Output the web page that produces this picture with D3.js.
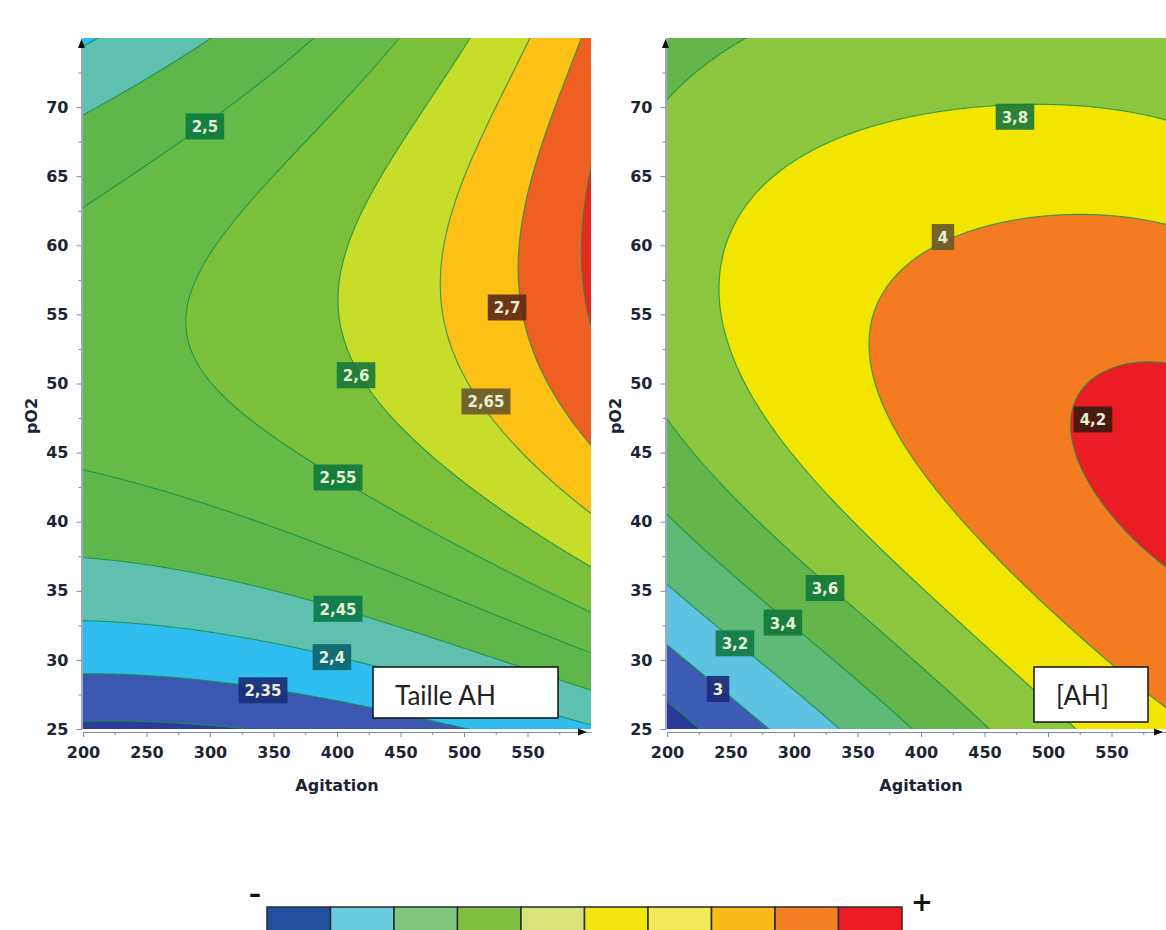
<!DOCTYPE html>
<html><head><meta charset="utf-8">
<script src="https://cdn.jsdelivr.net/npm/d3@7"></script>
<style>
body{margin:0;background:#fff;}
svg{display:block;}
</style></head><body>
<svg id="chart" width="1166" height="930"></svg>
<script>
// ---------------- DATA ----------------
const agitationGrid = [200,250,300,350,400,450,500,550,600];
const pO2Grid = [25,30,35,40,45,50,55,60,65,70,75];
// Taille AH : rows = pO2 (25 -> 75), columns = Agitation (200 -> 600)
const tailleAH = [
  [2.290,2.291,2.294,2.302,2.310,2.327,2.349,2.372,2.393],
  [2.365,2.370,2.377,2.388,2.398,2.416,2.438,2.460,2.497],
  [2.424,2.433,2.441,2.451,2.465,2.485,2.512,2.546,2.573],
  [2.469,2.479,2.490,2.503,2.524,2.546,2.571,2.604,2.633],
  [2.503,2.512,2.524,2.538,2.565,2.589,2.619,2.645,2.690],
  [2.528,2.535,2.542,2.562,2.590,2.614,2.646,2.682,2.740],
  [2.534,2.542,2.553,2.575,2.604,2.626,2.668,2.715,2.756],
  [2.516,2.532,2.551,2.574,2.602,2.624,2.664,2.714,2.758],
  [2.483,2.502,2.527,2.552,2.578,2.604,2.642,2.702,2.747],
  [2.446,2.466,2.490,2.525,2.550,2.578,2.612,2.672,2.732],
  [2.393,2.420,2.447,2.482,2.515,2.556,2.597,2.652,2.712]
];
// [AH]
const concAH = [
  [2.690,2.900,3.070,3.245,3.410,3.572,3.740,3.900,3.980],
  [2.945,3.128,3.305,3.478,3.600,3.775,3.892,4.006,4.067],
  [3.173,3.353,3.518,3.667,3.781,3.933,4.035,4.117,4.175],
  [3.402,3.543,3.675,3.813,3.916,4.045,4.125,4.186,4.238],
  [3.536,3.680,3.800,3.914,4.004,4.112,4.168,4.210,4.257],
  [3.646,3.757,3.873,3.971,4.046,4.135,4.172,4.200,4.231],
  [3.704,3.790,3.900,3.985,4.042,4.112,4.145,4.150,4.161],
  [3.720,3.790,3.885,3.953,3.990,4.045,4.058,4.055,4.046],
  [3.692,3.757,3.830,3.878,3.893,3.933,3.924,3.920,3.887],
  [3.619,3.680,3.740,3.770,3.770,3.790,3.780,3.780,3.740],
  [3.510,3.585,3.640,3.640,3.680,3.690,3.690,3.700,3.680]
];
const tailleLevels = [2.3,2.35,2.4,2.45,2.5,2.55,2.6,2.65,2.7,2.75];
const concLevels = [2.8,3.0,3.2,3.4,3.6,3.8,4.0,4.2];
// contour labels: [level, agitation, pO2]
const tailleLabels = [[2.5,296,68.6],[2.55,400.8,43.2],[2.6,415,50.6],[2.65,517.3,48.7],[2.7,533.9,55.5],[2.45,400.8,33.7],[2.4,396,30.2],[2.35,341.7,27.8]];
const concLabels = [[3.8,474,69.3],[4,417.3,60.6],[4.2,535.4,47.4],[3.6,324.4,35.2],[3.4,291.3,32.7],[3.2,253.5,31.2],[3,240.2,27.9]];
const xTicks = [200,250,300,350,400,450,500,550];
const yTicks = [25,30,35,40,45,50,55,60,65,70];
const panelTitles = ["Taille AH","[AH]"];
const xTitle = "Agitation", yTitle = "pO2";
const legendSigns = ["–","+"];

// ---------------- STYLE ----------------
const tailleColors = ["#2b3c98","#3a58b2","#2fbcee","#5ec0ae","#5db74b","#66ba47","#7bbf3b","#c8dc2a","#fcc114","#ef5f21","#e8281f"];
const concColors = ["#2a3a98","#3b5bb5","#5ec3e2","#5db975","#64b64a","#8cc63f","#f2e600","#f47b20","#ec1c24"];
const tailleLabelFill = {"2.35":"#1b2f78","2.4":"#0c6672","2.45":"#0d7a4c","2.5":"#0d7a40","2.55":"#107a3e","2.6":"#1a7a38","2.65":"#6b5a2c","2.7":"#5e2a16"};
const concLabelFill = {"3":"#1e2b78","3.2":"#137a48","3.4":"#127a3a","3.6":"#127a3a","3.8":"#1a7838","4":"#6a5a28","4.2":"#3c1a10"};
const legendColors = ["#22509e","#66ccdd","#80c882","#80c040","#d8e47a","#f2e610","#f2ea5a","#f8bc18","#f28022","#ee1c24"];
const axisColor = "#7f88b5", tickText = "#1b2535", lineColor = "#14924a";

const svg = d3.select("#chart");
const plotTop = 38, plotBottom = 729;
const panels = [
  {x0:83, x1:591, grid:tailleAH, levels:tailleLevels, colors:tailleColors, labels:tailleLabels, fills:tailleLabelFill, title:panelTitles[0], box:[373,667,185,51]},
  {x0:667, x1:1175, grid:concAH, levels:concLevels, colors:concColors, labels:concLabels, fills:concLabelFill, title:panelTitles[1], box:[1034,667,114,55]}
];

// smooth response surface: least-squares polynomial fit (degree 4) of the read grid
const DEG = 4;
const [aMin,aMax] = d3.extent(agitationGrid), [oMin,oMax] = d3.extent(pO2Grid);
const codeA = d3.scaleLinear().domain([aMin,aMax]).range([-1,1]);
const codeO = d3.scaleLinear().domain([oMin,oMax]).range([-1,1]);
function terms(X,Y){
  const t=[];
  for(let d=0; d<=DEG; d++) for(let i=0;i<=d;i++) t.push(Math.pow(X,d-i)*Math.pow(Y,i));
  return t;
}
function fitSurface(grid){
  const n = terms(0,0).length;
  const M = Array.from({length:n},()=>new Array(n).fill(0)), b = new Array(n).fill(0);
  grid.forEach((row,j)=>row.forEach((z,i)=>{
    const t = terms(codeA(agitationGrid[i]), codeO(pO2Grid[j]));
    for(let r=0;r<n;r++){ b[r]+=t[r]*z; for(let c=0;c<n;c++) M[r][c]+=t[r]*t[c]; }
  }));
  for(let k=0;k<n;k++){
    let p=k; for(let r=k+1;r<n;r++) if(Math.abs(M[r][k])>Math.abs(M[p][k])) p=r;
    [M[k],M[p]]=[M[p],M[k]]; [b[k],b[p]]=[b[p],b[k]];
    for(let r=k+1;r<n;r++){ const f=M[r][k]/M[k][k]; for(let c=k;c<n;c++) M[r][c]-=f*M[k][c]; b[r]-=f*b[k]; }
  }
  const coef = new Array(n).fill(0);
  for(let k=n-1;k>=0;k--){ let s=b[k]; for(let c=k+1;c<n;c++) s-=M[k][c]*coef[c]; coef[k]=s/M[k][k]; }
  return (a,o)=>{ const t=terms(codeA(a),codeO(o)); let s=0; for(let k=0;k<n;k++) s+=coef[k]*t[k]; return s; };
}

panels.forEach((p,pi)=>{
  const x = d3.scaleLinear().domain([aMin,aMax]).range([p.x0,p.x1]);
  const y = d3.scaleLinear().domain([oMin,oMax]).range([plotBottom,plotTop]);
  const f = fitSurface(p.grid);
  const g = svg.append("g");
  const clipId = "clip"+pi;
  svg.append("defs").append("clipPath").attr("id",clipId)
    .append("rect").attr("x",p.x0).attr("y",plotTop).attr("width",p.x1-p.x0).attr("height",plotBottom-plotTop);

  const s = 2, ox = p.x0-4, oy = plotTop-4;
  const nw = Math.ceil((p.x1-p.x0+8)/s), nh = Math.ceil((plotBottom-plotTop+8)/s);
  const values = new Float64Array(nw*nh);
  for(let j=0;j<nh;j++){
    const pv = y.invert(oy+(j+0.5)*s);
    for(let i=0;i<nw;i++) values[j*nw+i] = f(x.invert(ox+(i+0.5)*s), pv);
  }
  const contours = d3.contours().size([nw,nh]).thresholds(p.levels)(values);
  const proj = d3.geoTransform({point(px,py){ this.stream.point(ox+px*s, oy+py*s); }});
  const path = d3.geoPath(proj);

  const area = g.append("g").attr("clip-path",`url(#${clipId})`);
  area.append("rect").attr("x",p.x0).attr("y",plotTop).attr("width",p.x1-p.x0).attr("height",plotBottom-plotTop).attr("fill",p.colors[0]);
  area.selectAll("path.band").data(contours).join("path").attr("class","band")
    .attr("d",path).attr("fill",(d,i)=>p.colors[i+1]).attr("stroke","none");
  area.selectAll("path.iso").data(contours).join("path").attr("class","iso")
    .attr("d",path).attr("fill","none").attr("stroke",lineColor).attr("stroke-width",1.1).attr("stroke-opacity",0.85);

  // axes
  const yAxis = d3.axisLeft(y).tickValues(yTicks).tickSize(5).tickSizeOuter(0).tickPadding(8);
  const yMinor = d3.axisLeft(y).tickValues(d3.range(27.5,75,5)).tickSize(3).tickSizeOuter(0).tickFormat("");
  const xAxis = d3.axisBottom(x).tickValues(xTicks).tickSize(5).tickSizeOuter(0).tickPadding(10);
  const xMinor = d3.axisBottom(x).tickValues(d3.range(225,600,50)).tickSize(3).tickSizeOuter(0).tickFormat("");
  const ya = g.append("g").attr("transform",`translate(${p.x0-1.5},0)`).call(yAxis);
  g.append("g").attr("transform",`translate(${p.x0-1.5},0)`).call(yMinor);
  const xa = g.append("g").attr("transform",`translate(0,${plotBottom+3})`).call(xAxis);
  g.append("g").attr("transform",`translate(0,${plotBottom+3})`).call(xMinor);
  g.selectAll(".domain, .tick line").attr("stroke",axisColor);
  [ya,xa].forEach(a=>a.selectAll("text").attr("fill",tickText)
      .style("font-family","DejaVu Sans").style("font-weight","bold").style("font-size","16px"));
  g.append("path").attr("d",`M${p.x0-5},${plotTop+10}L${p.x0-1.5},${plotTop+1}L${p.x0+2},${plotTop+10}Z`).attr("fill","#111");
  const ax = Math.min(p.x1-4, 1163);
  g.append("path").attr("d",`M${ax-9},${plotBottom-0.5}L${ax},${plotBottom+3}L${ax-9},${plotBottom+6.5}Z`).attr("fill","#111");

  g.append("text").attr("x",(p.x0+p.x1)/2).attr("y",791).attr("text-anchor","middle")
    .style("font-family","DejaVu Sans").style("font-weight","bold").style("font-size","16px").attr("fill","#1b2535").text(xTitle);
  g.append("text").attr("transform",`translate(${p.x0-46},416) rotate(-90)`).attr("text-anchor","middle")
    .style("font-family","DejaVu Sans").style("font-weight","bold").style("font-size","16px").attr("fill","#1b2535").text(yTitle);

  p.labels.forEach(([lv,a,o])=>{
    const cx=x(a), cy=y(o);
    const lg = g.append("g");
    const r = lg.append("rect");
    const t = lg.append("text").attr("x",cx).attr("y",cy+6).attr("text-anchor","middle")
      .style("font-family","DejaVu Sans").style("font-weight","bold").style("font-size","15px")
      .attr("fill","#e6f0d6").text(String(lv).replace(".",","));
    const w = t.node().getComputedTextLength()+12;
    r.attr("x",cx-w/2).attr("y",cy-13).attr("width",w).attr("height",26).attr("fill",p.fills[String(lv)]).attr("fill-opacity",0.92);
  });

  const [bx,by,bw,bh]=p.box;
  g.append("rect").attr("x",bx).attr("y",by).attr("width",bw).attr("height",bh).attr("fill","#fff").attr("stroke","#111").attr("stroke-width",1.5);
  g.append("text").attr("x",bx+22).attr("y",by+38).style("font-family","Lato").style("font-size","26px").attr("fill","#222").text(p.title);
});

const lb = d3.scaleBand().domain(d3.range(legendColors.length)).range([267,902]);
svg.append("g").selectAll("rect").data(legendColors).join("rect")
  .attr("x",(d,i)=>lb(i)).attr("y",907).attr("width",lb.bandwidth()).attr("height",26)
  .attr("fill",d=>d).attr("stroke","#2a2a2a").attr("stroke-width",1.5);
svg.append("text").attr("x",255).attr("y",902).attr("text-anchor","middle").style("font-family","DejaVu Sans").style("font-weight","bold").style("font-size","24px").attr("fill","#111").text(legendSigns[0]);
svg.append("text").attr("x",922).attr("y",911).attr("text-anchor","middle").style("font-family","DejaVu Sans").style("font-weight","bold").style("font-size","26px").attr("fill","#111").text(legendSigns[1]);
</script>
</body></html>
